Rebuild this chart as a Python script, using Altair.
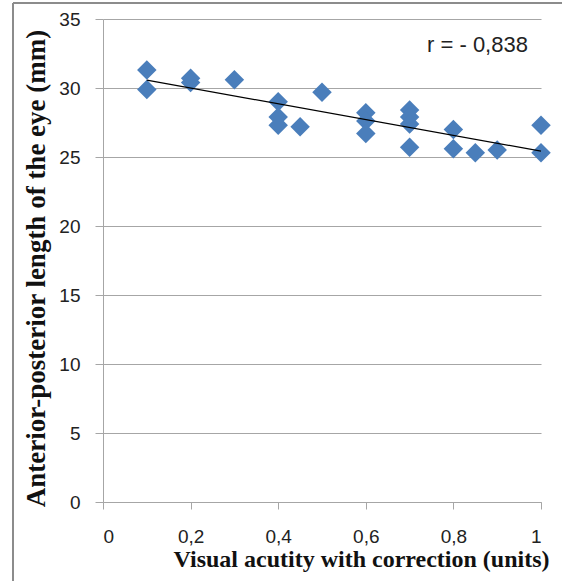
import altair as alt
import pandas as pd

# Visual acuity with correction (units)
acuity = [0.1, 0.1, 0.2, 0.2, 0.3, 0.4, 0.4, 0.4, 0.45, 0.5,
          0.6, 0.6, 0.6, 0.7, 0.7, 0.7, 0.7, 0.8, 0.8, 0.85,
          0.9, 1.0, 1.0]
# Anterior-posterior length of the eye (mm)
length = [31.3, 29.9, 30.7, 30.4, 30.6, 29.0, 27.9, 27.3, 27.2, 29.7,
          28.2, 27.6, 26.7, 28.4, 27.9, 27.4, 25.7, 27.0, 25.6, 25.3,
          25.5, 27.3, 25.3]

x_ticks = [0, 0.2, 0.4, 0.6, 0.8, 1.0]
y_ticks = [0, 5, 10, 15, 20, 25, 30, 35]

note_text = ["r = - 0,838"]
note_x = [0.855]
note_y = [33.1]

df = pd.DataFrame({"x": acuity, "y": length})
notes = pd.DataFrame({"x": note_x, "y": note_y, "t": note_text})

grid = "#a6a6a6"
label_font = "Liberation Sans"
title_font = "Liberation Serif"

xscale = alt.Scale(domain=[0, 1], nice=False, zero=False)
yscale = alt.Scale(domain=[0, 35], nice=False)

xaxis = alt.Axis(
    values=x_ticks,
    labelExpr="replace(format(datum.value, '~g'), '.', ',')",
    grid=False, domainColor=grid, tickColor=grid, tickSize=7,
    labelFont=label_font, labelFontSize=19, labelColor="#222222",
    labelPadding=18,
    title="Visual acutity with correction (units)",
    titleFont=title_font, titleFontWeight="bold", titleFontSize=24,
    titleColor="#111111", titlePadding=1, titleX=258, titleAlign="center",
)
yaxis = alt.Axis(
    values=y_ticks, grid=True, gridColor=grid, gridWidth=1.2,
    domainColor=grid, tickColor=grid, tickSize=8,
    labelFont=label_font, labelFontSize=19, labelColor="#222222",
    labelPadding=15,
    title="Anterior-posterior length of the eye (mm)",
    titleFont=title_font, titleFontWeight="bold", titleFontSize=27,
    titleColor="#111111", titlePadding=8, titleY=249, titleAlign="center",
)

points = alt.Chart(df).mark_point(
    shape="diamond", filled=True, size=380, color="#4a7ebb", opacity=1
).encode(
    x=alt.X("x:Q", scale=xscale, axis=xaxis),
    y=alt.Y("y:Q", scale=yscale, axis=yaxis),
)

trend = alt.Chart(df).transform_regression("x", "y").mark_line(
    color="#000000", strokeWidth=1.2
).encode(
    x=alt.X("x:Q", scale=xscale),
    y=alt.Y("y:Q", scale=yscale),
)

note = alt.Chart(notes).mark_text(
    font=label_font, fontSize=22, color="#222222", align="center", baseline="middle"
).encode(
    x=alt.X("x:Q", scale=xscale),
    y=alt.Y("y:Q", scale=yscale),
    text="t:N",
)

frame_data = alt.Data(values=[{"k": 1}])
left_border = alt.Chart(frame_data).mark_rule(color="#8c8c8c", strokeWidth=2).encode(
    x=alt.value(-90), y=alt.value(-16), y2=alt.value(600)
)
top_border = alt.Chart(frame_data).mark_rule(color="#8c8c8c", strokeWidth=2).encode(
    x=alt.value(-90), x2=alt.value(500), y=alt.value(-16)
)

chart = alt.layer(left_border, top_border, points, trend, note).properties(
    width=438, height=483,
    autosize=alt.AutoSizeParams(type="none"),
    padding={"left": 103, "top": 19, "right": 21, "bottom": 79},
    background="white",
).configure_view(stroke=None)

chart.save("out.html", embed_options={"renderer": "svg", "actions": False})
